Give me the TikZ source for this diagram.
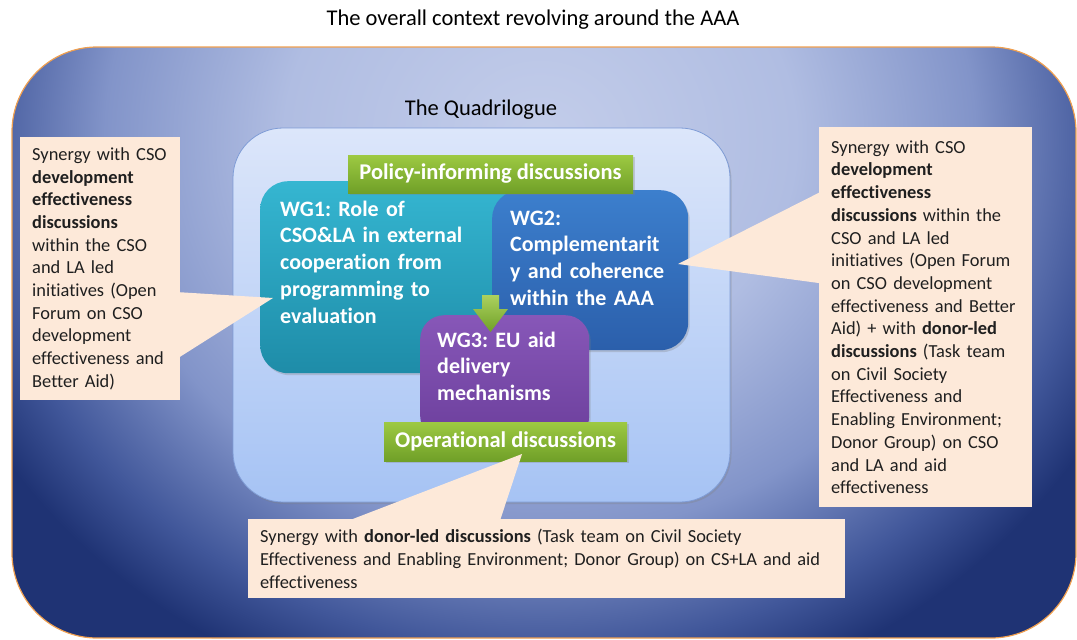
\documentclass[tikz,border=0pt]{standalone}
\usepackage{fontspec}
\setmainfont{Carlito}[Ligatures=NoCommon]
\usetikzlibrary{shadows}
\frenchspacing

% palette
\definecolor{ctxlight}{HTML}{C3CDEA}
\definecolor{ctxmidA}{HTML}{B0BDE2}
\definecolor{ctxmidB}{HTML}{8294C9}
\definecolor{ctxmidC}{HTML}{41579A}
\definecolor{ctxdark}{HTML}{1F3374}
\definecolor{ctxedge}{HTML}{F0A050}
\definecolor{quadtop}{HTML}{DCE6FA}
\definecolor{quadbot}{HTML}{A6C3F4}
\definecolor{quadline}{HTML}{7F9CD6}
\definecolor{wgonetop}{HTML}{35B6D1}
\definecolor{wgonebot}{HTML}{1E8CA8}
\definecolor{wgtwotop}{HTML}{3C7FCD}
\definecolor{wgtwobot}{HTML}{2B5FAB}
\definecolor{wgthreetop}{HTML}{8757B8}
\definecolor{wgthreebot}{HTML}{6C3F9C}
\definecolor{grntop}{HTML}{9DC942}
\definecolor{grnbot}{HTML}{70A028}
\definecolor{callfill}{HTML}{FDE9D9}

% background glow of the outer context
\pgfdeclareradialshading{ctxglow}{\pgfpointorigin}{%
  color(0bp)=(ctxlight); color(10bp)=(ctxmidA); color(17bp)=(ctxmidB);
  color(22bp)=(ctxmidC); color(25bp)=(ctxdark); color(50bp)=(ctxdark)}

% one unbreakable line of callout text
\newcommand\callline[1]{\mbox{#1}}

\tikzset{
  bigfont/.style={font=\fontsize{22.5}{27}\selectfont},
  plainlabel/.style={bigfont, inner sep=0pt, text=black},
  softshadow/.style={drop shadow={shadow xshift=1.5pt, shadow yshift=-2pt, opacity=0.3}},
  wgbox/.style={rounded corners=28pt, text=white, anchor=north west,
    font=\fontsize{22}{26.7}\selectfont\bfseries, align=left,
    text height=16pt, softshadow},
  tagbox/.style={top color=grntop, bottom color=grnbot, text=white,
    font=\fontsize{22.5}{27}\selectfont\bfseries, inner sep=0pt, softshadow},
  callout/.style={fill=callfill, text=black!88, anchor=north west,
    font=\fontsize{18.4}{22.7}\selectfont, align=left,
    inner xsep=12pt, inner ysep=0pt},
  pointer/.style={fill=callfill},
}

\begin{document}
\begin{tikzpicture}[x=1pt, y=-1pt]
\useasboundingbox (0,0) rectangle (1077,640);

% title
\node[plainlabel] (title) at (533,20) {The overall context revolving around the AAA};

% outer context frame
\begin{scope}
  \clip[rounded corners=85pt] (12,47) rectangle (1076,638);
  \fill[ctxdark] (12,47) rectangle (1076,638);
  \shade[shading=ctxglow] (540,140) ellipse [x radius=640, y radius=580];
\end{scope}
\draw[ctxedge, line width=1.2pt, rounded corners=85pt] (12,47) rectangle (1076,638);

% the Quadrilogue
\node[plainlabel] (qlabel) at (481,110) {The Quadrilogue};
\node[top color=quadtop, bottom color=quadbot, draw=quadline, line width=0.8pt,
      rounded corners=50pt, minimum width=497pt, minimum height=374pt,
      inner sep=0pt, softshadow] (quad) at (481.5,315) {};

% working groups
\node[wgbox, top color=wgonetop, bottom color=wgonebot,
      inner xsep=20pt, inner ysep=19pt, text width=230pt, text depth=138pt]
  (wg1) at (260,181) {WG1: Role of\\CSO\&LA in external\\cooperation from\\programming to\\evaluation};
\node[wgbox, top color=wgtwotop, bottom color=wgtwobot,
      inner xsep=18pt, inner ysep=19pt, text width=160pt, text depth=106pt]
  (wg2) at (492,190) {WG2:\\Complementarit\\y and coherence\\within the AAA};
\node[wgbox, rounded corners=24pt, top color=wgthreetop, bottom color=wgthreebot,
      inner xsep=17pt, inner ysep=16pt, text width=135pt, text depth=77pt]
  (wg3) at (420,315) {WG3: EU aid\\delivery\\mechanisms};

% block arrow from policy level down to WG3
\shade[top color=grntop!85!white, bottom color=grnbot]
  (482,295) -- (499,295) -- (499,309) -- (508,309) -- (490.5,332)
  -- (473,309) -- (482,309) -- cycle;

% discussion levels
\node[tagbox, minimum width=285pt, minimum height=38pt] (policy) at (490.5,174)
  {Policy-informing discussions};
\node[tagbox, minimum width=243pt, minimum height=39pt] (oper) at (505.5,441.5)
  {Operational discussions};

% callouts
\coordinate (tipL) at (273,298);
\coordinate (tipR) at (678,264);
\coordinate (tipB) at (522,454);

\node[callout, text width=136pt, minimum height=263pt] (cl) at (20,137)
  {\callline{Synergy with CSO}\\
   \callline{\textbf{development}}\\
   \callline{\textbf{effectiveness}}\\
   \callline{\textbf{discussions}}\\
   \callline{within the CSO}\\
   \callline{and LA led}\\
   \callline{initiatives (Open}\\
   \callline{Forum on CSO}\\
   \callline{development}\\
   \callline{effectiveness and}\\
   \callline{Better Aid)}};
\fill[pointer] ([xshift=-1pt,yshift=-23.5pt]cl.east) -- (tipL)
  -- ([xshift=-1pt,yshift=-88.5pt]cl.east) -- cycle;

\node[callout, text width=189pt, minimum height=380pt] (cr) at (819,127)
  {\callline{Synergy with CSO}\\
   \callline{\textbf{development}}\\
   \callline{\textbf{effectiveness}}\\
   \callline{\textbf{discussions} within the}\\
   \callline{CSO and LA led}\\
   \callline{initiatives (Open Forum}\\
   \callline{on CSO development}\\
   \callline{effectiveness and Better}\\
   \callline{Aid) + with \textbf{donor-led}}\\
   \callline{\textbf{discussions} (Task team}\\
   \callline{on Civil Society}\\
   \callline{Effectiveness and}\\
   \callline{Enabling Environment;}\\
   \callline{Donor Group) on CSO}\\
   \callline{and LA and aid}\\
   \callline{effectiveness}};
\fill[pointer] ([xshift=1pt,yshift=125pt]cr.west) -- (tipR)
  -- ([xshift=1pt,yshift=34pt]cr.west) -- cycle;

\node[callout, text width=573pt, minimum height=79pt] (cb) at (248,519)
  {\callline{Synergy with \textbf{donor-led discussions} (Task team on Civil Society}\\
   \callline{Effectiveness and Enabling Environment; Donor Group) on CS+LA and aid}\\
   \callline{effectiveness}};
\fill[pointer] ([xshift=-196.5pt,yshift=-1pt]cb.north) -- (tipB)
  -- ([xshift=-46.5pt,yshift=-1pt]cb.north) -- cycle;
\end{tikzpicture}
\end{document}
